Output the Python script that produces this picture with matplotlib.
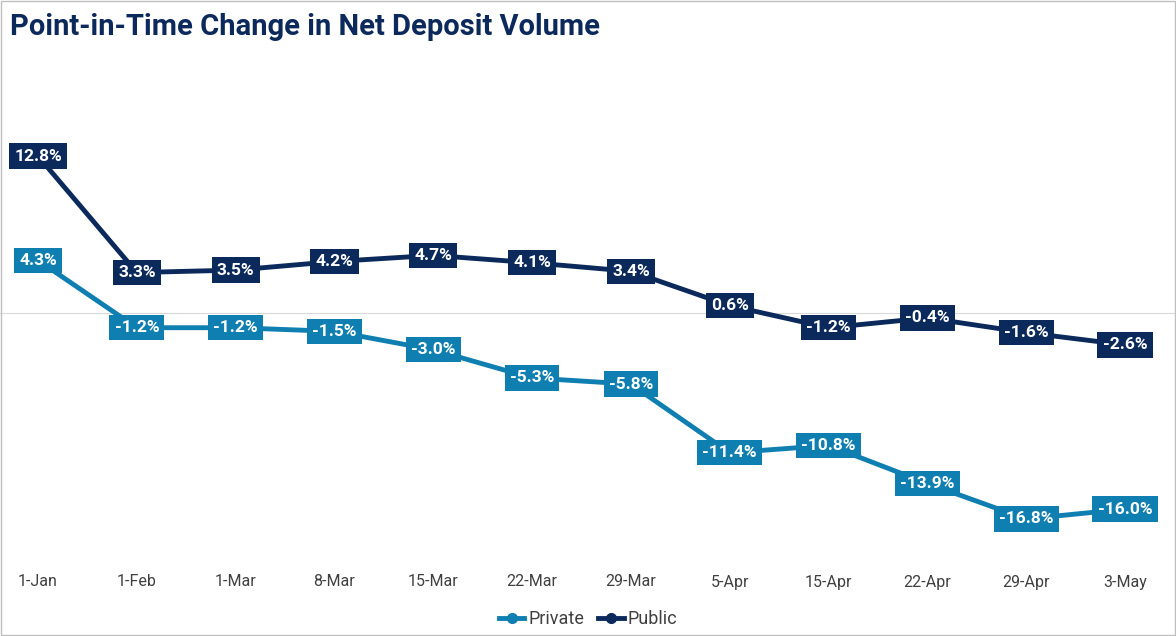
import matplotlib.pyplot as plt
from matplotlib.patches import Rectangle
from matplotlib.lines import Line2D

dates = ['1-Jan', '1-Feb', '1-Mar', '8-Mar', '15-Mar', '22-Mar', '29-Mar',
         '5-Apr', '15-Apr', '22-Apr', '29-Apr', '3-May']
private = [4.3, -1.2, -1.2, -1.5, -3.0, -5.3, -5.8, -11.4, -10.8, -13.9, -16.8, -16.0]
public = [12.8, 3.3, 3.5, 4.2, 4.7, 4.1, 3.4, 0.6, -1.2, -0.4, -1.6, -2.6]

c_priv = '#0e7fb0'
c_pub = '#0b2a5b'
plt.rcParams['font.family'] = ['Roboto', 'DejaVu Sans']

W, H = 1176, 636
fig = plt.figure(figsize=(W / 100, H / 100), dpi=100)
ax = fig.add_axes([0, 0, 1, 1])
ax.set_axis_off()

# pixel mapping
x0, x1 = 38, 1125
ppx = (x1 - x0) / (len(dates) - 1)
zero_y, ppy = 313, 12.26
ax.set_xlim(-x0 / ppx, len(dates) - 1 + (W - x1) / ppx)
ax.set_ylim(-(H - zero_y) / ppy, zero_y / ppy)

xs = range(len(dates))
ax.axhline(0, color='#d9d9d9', lw=0.8, zorder=1)
ax.plot(xs, private, color=c_priv, lw=3.5, zorder=2)
ax.plot(xs, public, color=c_pub, lw=3.5, zorder=2)

for vals, col in ((private, c_priv), (public, c_pub)):
    for x, v in zip(xs, vals):
        ax.text(x, v, f'{v:.1f}%', ha='center', va='center', color='white',
                fontsize=12.5, fontweight='bold', zorder=3,
                bbox=dict(boxstyle='square,pad=0.3', fc=col, ec='none'))

tick_y = -(582 - zero_y) / ppy
for x, d in zip(xs, dates):
    ax.text(x, tick_y, d, ha='center', va='center', fontsize=11.5, color='#404040')

handles = [Line2D([], [], color=c_priv, lw=3.5, marker='o', ms=7),
           Line2D([], [], color=c_pub, lw=3.5, marker='o', ms=7)]
fig.legend(handles, ['Private', 'Public'], loc='center', bbox_to_anchor=(0.5, 1 - 619 / H),
           ncol=2, frameon=False, fontsize=13, handlelength=1.4, handletextpad=0.2,
           columnspacing=0.8, labelcolor='#404040')

fig.text(10 / W, 1 - 27 / H, 'Point-in-Time Change in Net Deposit Volume', ha='left',
         va='center', fontsize=21, fontweight='bold', color=c_pub)
fig.patches.append(Rectangle((0.0005, 0.001), 0.999, 0.998, transform=fig.transFigure,
                             fill=False, ec='#bfbfbf', lw=1))

fig.savefig('out.png', dpi=100)
